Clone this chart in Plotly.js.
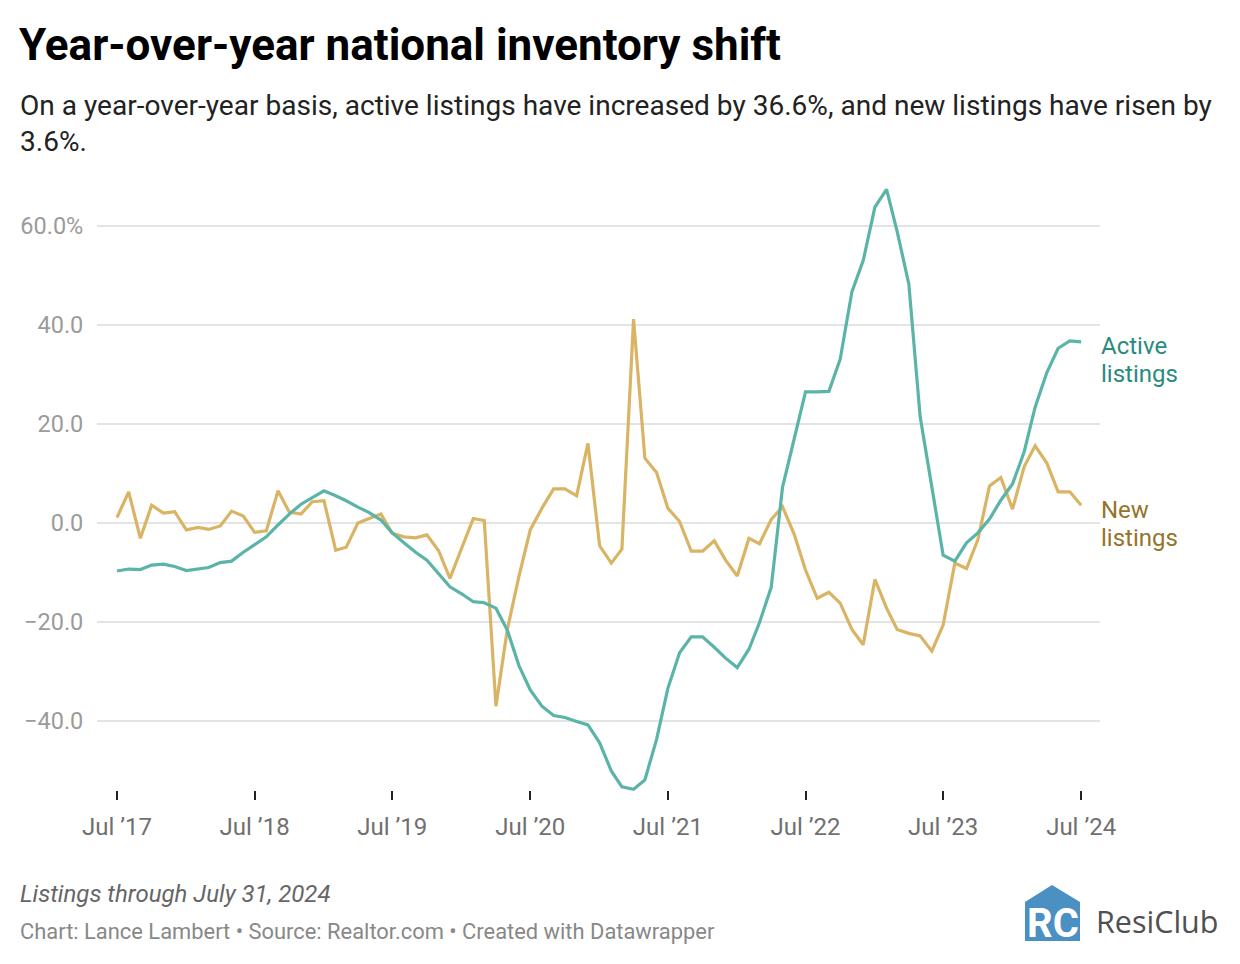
<!DOCTYPE html>
<html>
<head>
<meta charset="utf-8">
<script src="https://cdn.plot.ly/plotly-3.0.1.min.js"></script>
<style>
  html, body { margin: 0; padding: 0; background: #fff; }
  #chart { width: 1240px; height: 964px; }
</style>
</head>
<body>
<div id="chart"></div>
<script>
// ---- Data ----
const months = [
  '2017-07','2017-08','2017-09','2017-10','2017-11','2017-12',
  '2018-01','2018-02','2018-03','2018-04','2018-05','2018-06','2018-07','2018-08','2018-09','2018-10','2018-11','2018-12',
  '2019-01','2019-02','2019-03','2019-04','2019-05','2019-06','2019-07','2019-08','2019-09','2019-10','2019-11','2019-12',
  '2020-01','2020-02','2020-03','2020-04','2020-05','2020-06','2020-07','2020-08','2020-09','2020-10','2020-11','2020-12',
  '2021-01','2021-02','2021-03','2021-04','2021-05','2021-06','2021-07','2021-08','2021-09','2021-10','2021-11','2021-12',
  '2022-01','2022-02','2022-03','2022-04','2022-05','2022-06','2022-07','2022-08','2022-09','2022-10','2022-11','2022-12',
  '2023-01','2023-02','2023-03','2023-04','2023-05','2023-06','2023-07','2023-08','2023-09','2023-10','2023-11','2023-12',
  '2024-01','2024-02','2024-03','2024-04','2024-05','2024-06','2024-07'
];

const activeListings = [
  -9.7,-9.3,-9.4,-8.5,-8.3,-8.8,-9.6,-9.3,-9.0,-8.0,
  -7.7,-5.9,-4.4,-2.8,-0.4,1.8,3.8,5.2,6.5,5.5,
  4.5,3.2,2.1,0.6,-2.0,-4.0,-5.9,-7.5,-10.2,-12.9,
  -14.3,-15.9,-16.1,-17.2,-21.6,-28.8,-33.7,-37.0,-38.9,-39.3,
  -40.1,-40.8,-44.4,-50.1,-53.3,-53.8,-51.9,-43.7,-33.4,-26.2,
  -23.0,-23.0,-25.1,-27.3,-29.2,-25.5,-20.1,-13.0,7.2,16.8,
  26.5,26.5,26.6,33.1,46.7,53.0,63.8,67.4,58.9,48.3,
  21.5,7.3,-6.5,-7.7,-4.0,-2.0,0.8,4.6,7.9,14.4,
  23.4,30.4,35.3,36.8,36.6
];

const newListings = [
  1.1,6.3,-3.1,3.6,2.0,2.3,-1.4,-0.9,-1.3,-0.6,
  2.4,1.4,-1.9,-1.6,6.5,2.2,1.8,4.3,4.5,-5.5,
  -4.9,0.0,0.9,1.8,-2.1,-2.8,-3.0,-2.4,-5.6,-11.2,
  -5.1,0.9,0.5,-37.0,-21.6,-10.8,-1.4,3.0,6.9,6.9,
  5.5,16.1,-4.6,-8.1,-5.3,41.2,13.1,10.2,3.0,0.3,
  -5.7,-5.7,-3.6,-7.5,-10.7,-3.1,-4.2,0.7,3.3,-2.3,
  -9.5,-15.2,-14.0,-16.2,-21.5,-24.6,-11.4,-17.2,-21.5,-22.3,
  -22.8,-25.9,-20.6,-8.1,-9.2,-3.4,7.5,9.2,2.8,11.4,
  15.6,12.1,6.3,6.3,3.6
];

const xTickVals = ['2017-07','2018-07','2019-07','2020-07','2021-07','2022-07','2023-07','2024-07'];
const xTickText = ['Jul ’17','Jul ’18','Jul ’19','Jul ’20','Jul ’21','Jul ’22','Jul ’23','Jul ’24'];
const yTickVals = [-40, -20, 0, 20, 40, 60];
const yTickText = ['−40.0', '−20.0', '0.0', '20.0', '40.0', '60.0%'];

const seriesNames = ['Active listings', 'New listings'];

// ---- Layout helpers (pixel -> paper) ----
const W = 1240, H = 964;
const PL = 97, PR = 1100, PT = 176, PB = 800;
const px = v => (v - PL) / (PR - PL);
const py = v => (PB - v) / (PB - PT);

const tealLine = '#5ab4a7';
const goldLine = '#d9b464';
const tealText = '#2a8b7d';
const goldText = '#94742b';

const traces = [
  {
    x: months, y: newListings, type: 'scatter', mode: 'lines', name: seriesNames[1],
    line: { color: goldLine, width: 3.2, shape: 'linear' }, hoverinfo: 'skip'
  },
  {
    x: months, y: activeListings, type: 'scatter', mode: 'lines', name: seriesNames[0],
    line: { color: tealLine, width: 3.2, shape: 'linear' }, hoverinfo: 'skip'
  }
];

const FONT = 'Roboto, "Noto Sans", Arial, sans-serif';

const annotations = [
  { text: '<b>Year-over-year national inventory shift</b>', x: px(17), y: py(45), xanchor: 'left', yanchor: 'middle',
    font: { family: FONT, size: 44, color: '#000' } },
  { text: 'On a year-over-year basis, active listings have increased by 36.6%, and new listings have risen by', x: px(18), y: py(106), xanchor: 'left', yanchor: 'middle',
    font: { family: FONT, size: 28.05, color: '#222' } },
  { text: '3.6%.', x: px(18), y: py(141), xanchor: 'left', yanchor: 'middle',
    font: { family: FONT, size: 28.05, color: '#222' } },
  { text: 'Active', x: px(1099), y: py(346), xanchor: 'left', yanchor: 'middle', align: 'left',
    font: { family: FONT, size: 24, color: tealText } },
  { text: 'listings', x: px(1099), y: py(374), xanchor: 'left', yanchor: 'middle', align: 'left',
    font: { family: FONT, size: 24, color: tealText } },
  { text: 'New', x: px(1099), y: py(510), xanchor: 'left', yanchor: 'middle', align: 'left',
    font: { family: FONT, size: 24, color: goldText } },
  { text: 'listings', x: px(1099), y: py(538), xanchor: 'left', yanchor: 'middle', align: 'left',
    font: { family: FONT, size: 24, color: goldText } },
  { text: '<i>Listings through July 31, 2024</i>', x: px(18), y: py(894), xanchor: 'left', yanchor: 'middle',
    font: { family: FONT, size: 24, color: '#666' } },
  { text: 'Chart: Lance Lambert • Source: Realtor.com • Created with Datawrapper', x: px(18), y: py(931), xanchor: 'left', yanchor: 'middle',
    font: { family: FONT, size: 21.9, color: '#888' } },
  { text: '<b>RC</b>', x: px(1053), y: py(923), xanchor: 'center', yanchor: 'middle',
    font: { family: FONT, size: 40, color: '#fff' } },
  { text: 'ResiClub', x: px(1094), y: py(921), xanchor: 'left', yanchor: 'middle',
    font: { family: '"Open Sans", Lato, sans-serif', size: 30.5, color: '#505050' } }
].map(a => Object.assign({ xref: 'paper', yref: 'paper', showarrow: false }, a));

const logoPath = 'M ' + px(1025) + ' ' + py(902) + ' L ' + px(1052) + ' ' + py(885) + ' L ' + px(1080) + ' ' + py(902) +
  ' L ' + px(1080) + ' ' + py(941) + ' L ' + px(1025) + ' ' + py(941) + ' Z';

const shapes = [
  { type: 'line', xref: 'paper', yref: 'y', x0: 0, x1: 1, y0: 0, y1: 0, line: { color: '#1a1a1a', width: 2 }, layer: 'below' },
  { type: 'path', xref: 'paper', yref: 'paper', path: logoPath, fillcolor: '#4a90c2', line: { width: 0 } }
];

const layout = {
  width: W, height: H,
  margin: { l: PL, r: W - PR, t: PT, b: H - PB, pad: 0 },
  paper_bgcolor: '#fff', plot_bgcolor: '#fff',
  showlegend: false,
  font: { family: FONT },
  xaxis: {
    type: 'date',
    range: ['2017-05-09', '2024-08-20'],
    tickvals: xTickVals, ticktext: xTickText,
    ticks: 'outside', ticklen: 9, tickwidth: 2, tickcolor: '#222',
    ticklabelstandoff: 6,
    tickfont: { family: FONT, size: 24, color: '#707070' },
    showgrid: false, zeroline: false, showline: false,
    anchor: 'free', position: (PB - 790) / (PB - PT)
  },
  yaxis: {
    range: [(523 - PB) / 4.95, (523 - PT) / 4.95],
    tickvals: yTickVals, ticktext: yTickText,
    ticks: 'outside', ticklen: 8, tickcolor: 'rgba(0,0,0,0)',
    tickfont: { family: FONT, size: 23.5, color: '#9b9b9b' },
    showgrid: true, gridcolor: '#e4e4e4', gridwidth: 1.5,
    zeroline: false, showline: false
  },
  annotations: annotations,
  shapes: shapes
};

Plotly.newPlot('chart', traces, layout, { displayModeBar: false, staticPlot: true });
</script>
</body>
</html>
